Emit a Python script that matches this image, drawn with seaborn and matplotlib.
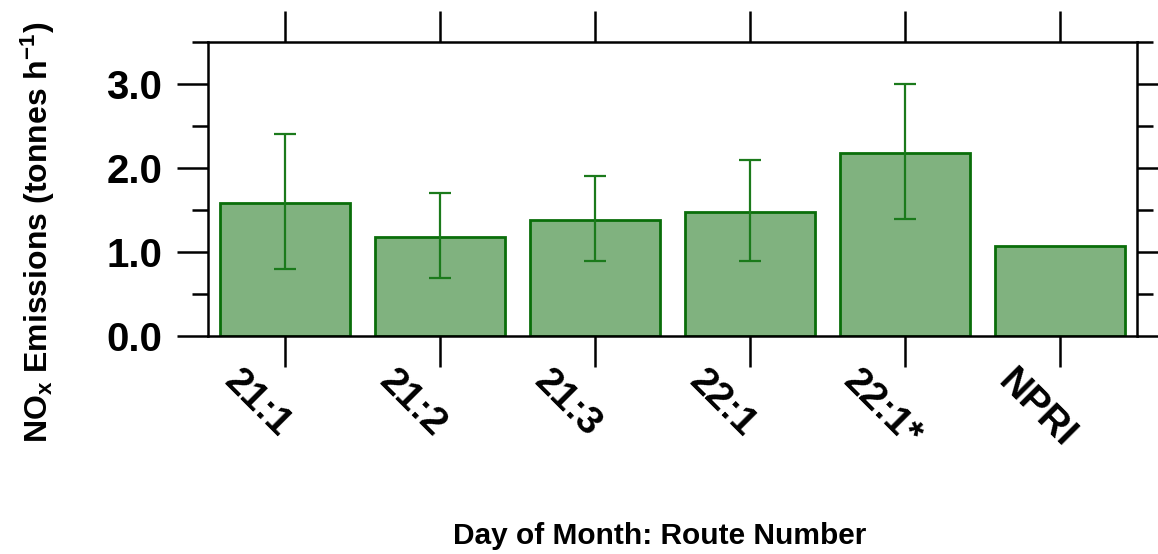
import numpy as np
import pandas as pd
import seaborn as sns
import matplotlib.pyplot as plt
import matplotlib.transforms as mtransforms
from matplotlib.ticker import MultipleLocator, FormatStrFormatter

# Data
routes = ['21:1', '21:2', '21:3', '22:1', '22:1*', 'NPRI']
emissions = [1.58, 1.18, 1.38, 1.48, 2.18, 1.08]
err_low = [0.80, 0.70, 0.90, 0.90, 1.40, np.nan]
err_high = [2.40, 1.70, 1.90, 2.10, 3.00, np.nan]

df = pd.DataFrame({'Route': routes, 'NOx': emissions})

sns.set_style('ticks')
plt.rcParams['font.family'] = ['Liberation Sans', 'DejaVu Sans']
plt.rcParams['font.weight'] = 'bold'
plt.rcParams['mathtext.fontset'] = 'custom'
plt.rcParams['mathtext.rm'] = 'Liberation Sans:bold'
plt.rcParams['mathtext.bf'] = 'Liberation Sans:bold'
plt.rcParams['mathtext.it'] = 'Liberation Sans:bold'
for key in ['text.color', 'axes.labelcolor', 'xtick.color', 'ytick.color', 'axes.edgecolor']:
    plt.rcParams[key] = 'black'

fill = '#80b27f'
edge = '#0a6e0a'

fig = plt.figure(figsize=(11.58, 5.54), dpi=100)
ax = fig.add_axes([0.1796, 0.3926, 0.8023, 0.5323])

sns.barplot(data=df, x='Route', y='NOx', color=fill, edgecolor=edge,
            linewidth=2, width=0.84, saturation=1, errorbar=None, ax=ax)

# asymmetric error bars from the low/high values
x_pos = np.arange(len(routes))
vals = np.array(emissions)
yerr = np.vstack([vals - np.array(err_low), np.array(err_high) - vals])
ax.errorbar(x_pos, vals, yerr=yerr, fmt='none', ecolor='#1b7a1b',
            elinewidth=1.6, capsize=8, capthick=1.6, zorder=5)

ax.set_xlim(-0.5, len(routes) - 0.5)
ax.set_ylim(0, 3.5)
ax.yaxis.set_major_locator(MultipleLocator(1.0))
ax.yaxis.set_minor_locator(MultipleLocator(0.5))
ax.yaxis.set_major_formatter(FormatStrFormatter('%.1f'))

for s in ax.spines.values():
    s.set_linewidth(1.8)
    s.set_color('black')

ax.tick_params(axis='y', which='major', direction='out', length=22, width=1.8,
               left=True, right=True, labelsize=29, pad=11)
ax.tick_params(axis='y', which='minor', direction='out', length=11.5, width=1.8,
               left=True, right=True)
ax.tick_params(axis='x', which='major', direction='out', length=22, width=1.8,
               bottom=True, top=True, labelsize=28, pad=-3)

ax.set_xticks(x_pos)
ax.set_xticklabels(routes, rotation=-45, ha='left', va='top', rotation_mode='anchor')
shift = mtransforms.ScaledTranslation(-0.43, 0, fig.dpi_scale_trans)
for lab in ax.get_xticklabels():
    lab.set_transform(lab.get_transform() + shift)

ax.set_xlabel('Day of Month: Route Number', fontsize=21.5, fontweight='bold')
ax.xaxis.set_label_coords(0.4865, -0.63)
ax.set_ylabel(r'NO$_\mathrm{x}$ Emissions (tonnes h$^\mathrm{-1}$)', fontsize=23, fontweight='bold')
ax.yaxis.set_label_coords(-0.163, 0.354)

fig.savefig('out.png', dpi=100)
